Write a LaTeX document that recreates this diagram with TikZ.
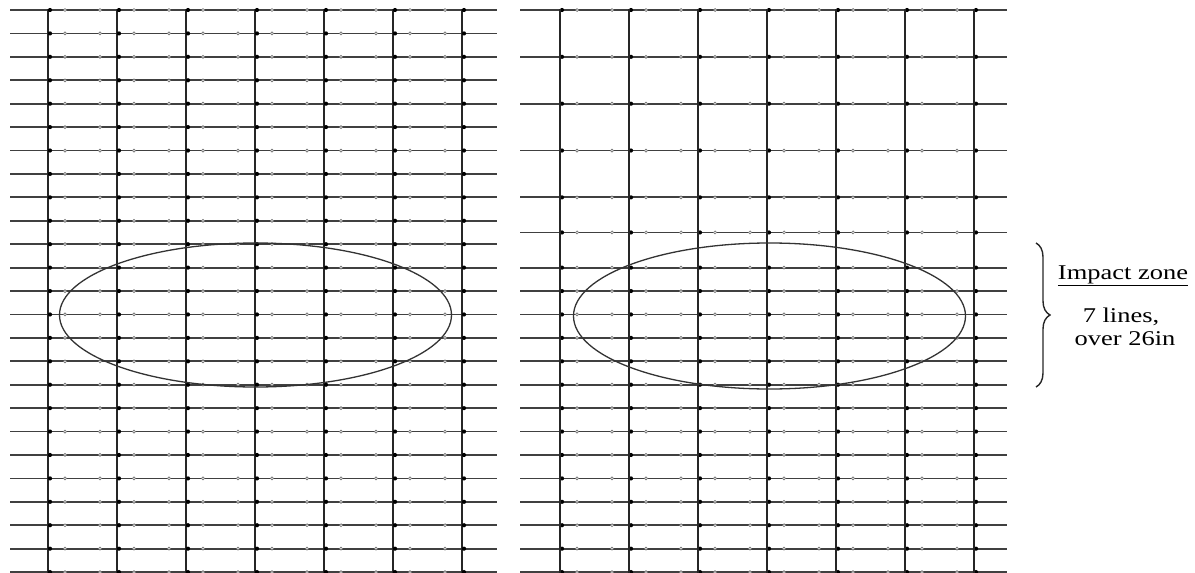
\documentclass[tikz,border=0pt]{standalone}
\usepackage{fontspec}
\usetikzlibrary{decorations.pathreplacing}
\newfontfamily\notefont[FakeStretch=1.26]{Liberation Serif}

\begin{document}
\begin{tikzpicture}[x=1pt, y=-1pt,
    wire/.style={line width=1.8pt, black!75},
    post/.style={line width=1.8pt, black!85},
    zoneline/.style={line width=1.3pt, black!80},
    knot/.style={fill=black},
    barb/.style={draw=black!55, fill=white, line width=0.7pt},
    notetext/.style={font=\notefont\fontsize{21}{23}\selectfont, anchor=base, inner sep=0pt}]
    \useasboundingbox (0,0) rectangle (1195,573);

    % Left mesh: 25 wires at full spacing
    \foreach \k in {0,...,24} {
        \draw[wire] (10,10+\k*23.42) -- (497,10+\k*23.42);
    }
    \foreach \v in {48,117,...,462} {
        \draw[post] (\v,9) -- (\v,573);
    }
    \foreach \k in {0,...,24} {
        \foreach \v in {48,117,...,462}
            \fill[knot] (\v+2,10+\k*23.42) circle (2.1pt);
        \foreach \v in {48,117,...,393} {
            \filldraw[barb] (\v+17,10+\k*23.42) circle (1.5pt);
            \filldraw[barb] (\v+52,10+\k*23.42) circle (1.5pt);
        }
    }

    % Right mesh: wider spacing at the top
    \foreach \k in {0,2,4,6,8,9.5,11,12,13,14,15,16,17,18,19,20,21,22,23,24} {
        \draw[wire] (520,10+\k*23.42) -- (1007,10+\k*23.42);
        \foreach \v in {560,629,...,974}
            \fill[knot] (\v+2,10+\k*23.42) circle (2.1pt);
        \foreach \v in {560,629,...,905} {
            \filldraw[barb] (\v+17,10+\k*23.42) circle (1.5pt);
            \filldraw[barb] (\v+52,10+\k*23.42) circle (1.5pt);
        }
    }
    \foreach \v in {560,629,...,974} {
        \draw[post] (\v,9) -- (\v,573);
    }

    % Impact zones
    \draw[zoneline] (255.5,315) ellipse [x radius=196pt, y radius=72pt];
    \draw[zoneline] (769.5,316) ellipse [x radius=196pt, y radius=73pt];

    % Brace and note
    \coordinate (bracetop) at (1036,243);
    \coordinate (bracebot) at (1036,387);
    \draw[line width=1.4pt, black!85, decorate, decoration={brace, amplitude=14pt, aspect=0.5}] (bracetop) -- (bracebot);
    \node[notetext] (zone) at (1123,279) {\underline{Impact zone}};
    \node[notetext] (count) at (1121,322) {7 lines,};
    \node[notetext] (span) at (1125,345) {over 26in};

\end{tikzpicture}
\end{document}
